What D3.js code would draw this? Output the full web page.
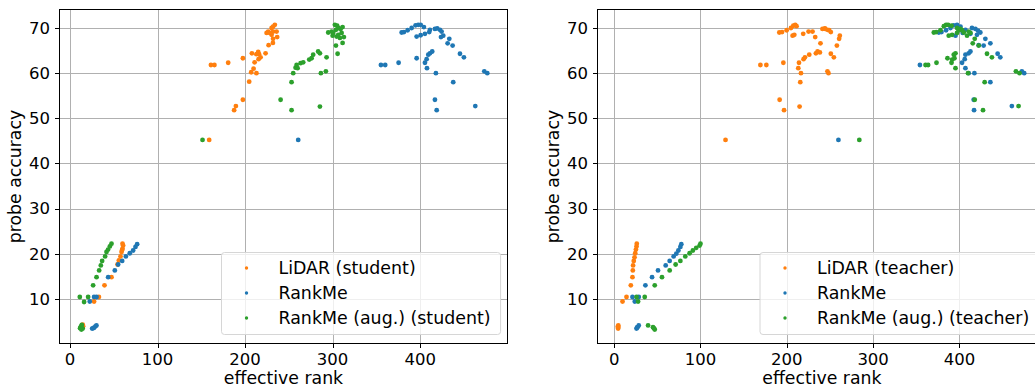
<!DOCTYPE html>
<html>
<head>
<meta charset="utf-8">
<script src="https://cdn.jsdelivr.net/npm/d3@7"></script>
<style>
  body { margin: 0; background: #fff; }
  svg { display: block; font-family: "DejaVu Sans", sans-serif; }
  .grid line { stroke: #b0b0b0; stroke-width: 1; }
  .tick-label { font-size: 16.5px; fill: #000; }
  .axis-label { font-size: 17.3px; fill: #000; }
  .legend-text { font-size: 17.4px; fill: #000; }
</style>
</head>
<body>
<svg id="chart" width="1035" height="388"></svg>
<script>
// [effective rank, probe accuracy]
const lidarStudent = [
  [13, 3.5], [13.5, 3.8], [14, 4.1], [14.5, 4.3], [12.5, 3.6], [15, 3.9],
  [27.5, 9.4], [33, 10.4], [39.4, 13], [47.4, 14.8], [54.3, 17.6], [55.8, 18.5], [57.7, 19.4],
  [58.9, 20.4], [60, 21.1], [60.7, 21.8], [60, 22.2], [59.5, 20.8],
  [159, 45.2],
  [161, 61.8], [165, 61.8], [180.7, 62.3], [197.5, 63.3], [207.8, 64.4], [215, 64.7], [216, 64.2],
  [217.7, 63.5], [215.4, 63.1], [210.9, 62.4], [213, 64.2], [223.4, 64.4], [209.7, 61], [207, 60.2],
  [213, 60], [204.7, 58.1], [197.5, 54.1], [189.5, 52.7], [187.5, 51.8],
  [234, 70.7], [232, 70.3], [230.3, 70], [226.4, 69.2], [224.6, 68.9], [228.3, 68.9], [232, 69.2],
  [236, 69.2], [230.3, 68.5], [236.7, 68], [232, 67.6], [226.9, 66.2], [231.8, 66.7]
];
const rankmeStudent = [
  [25.3, 3.4], [27.6, 3.6], [29.1, 3.9], [30.2, 4.1], [26.5, 3.5],
  [22.6, 9.4], [27.5, 10.4], [30.3, 10.4], [43.6, 14.8], [51.2, 16.3], [55, 17.6], [59.6, 18.4],
  [63.8, 19.4], [68.3, 20.1], [72.1, 20.7], [74.8, 21.5], [76.7, 22.1],
  [260.7, 45.2],
  [355.2, 61.8], [360.1, 61.8], [375.4, 62.3], [396, 63.3], [405.5, 62.3], [407.8, 61.1], [407.4, 63.1],
  [409.3, 64.1], [411.2, 64.4], [413.8, 64.8], [418, 60], [437.8, 58], [416.9, 54.1], [418.9, 51.8],
  [463, 52.7], [445.5, 64.3], [450, 63.5], [473.3, 60.4], [476.7, 60], [431.4, 66.6], [437.1, 66.1],
  [433.3, 67.6],
  [378.9, 69], [381.5, 69.1], [385.7, 69.5], [390.3, 70], [394.8, 70.6], [397.8, 70.7], [400.6, 70.7],
  [404.3, 70.2], [411.2, 69.6], [410.4, 69.1], [416.9, 69.8], [419.5, 69.9], [422.6, 69.6],
  [424.5, 69.2], [426.4, 68.3], [423.8, 68], [396, 68.1], [400.6, 68.4], [405.5, 68.7]
];
const rankmeAugStudent = [
  [11.5, 3.5], [12.5, 3.9], [13.5, 4.2], [14.5, 3.4], [13, 3.2],
  [11.2, 10.4], [16.1, 9.3], [20.7, 10.4], [26.4, 13], [30.3, 14.8], [33.3, 16.3], [35.2, 17.4],
  [36.7, 18.4], [40.1, 19.4], [41.7, 20.4], [43.5, 20.9], [45.5, 21.6], [47.4, 22.2],
  [151.4, 45.2],
  [240.6, 54.1], [253.1, 51.8], [253.1, 58], [255, 60], [258.9, 61.8], [257.7, 61.2], [260, 61.1],
  [263.4, 62.2], [266.4, 62.4], [273.3, 63], [276, 63.3], [277.8, 64.1], [283.5, 64.8], [285.5, 64.4],
  [293.1, 63.5], [285.5, 52.6], [286.6, 60], [292.3, 60.4], [305.7, 64.3], [303.8, 66.1], [311.4, 66.7],
  [302.6, 70.7], [305.2, 70.5], [295, 69], [298.9, 69.2], [300.7, 68.9], [303.8, 69.6], [306.4, 70],
  [309.1, 69.8], [311.4, 70.2], [300, 68.3], [306.4, 68.5], [310.3, 68.9], [308.3, 67.8],
  [312.9, 68], [304.6, 68.1]
];
const lidarTeacher = [
  [4.6, 3.4], [4.6, 3.7], [4.8, 4.1], [4.4, 3.9],
  [9.7, 9.4], [14.3, 10.4], [19.3, 13], [21.2, 14.8], [21.6, 16.3], [21.9, 17.4], [22.7, 18.4],
  [23.6, 19.2], [24.4, 20.1], [25.2, 20.9], [25.9, 21.6], [26.2, 22.2],
  [129, 45.2],
  [169.4, 61.8], [176.3, 61.8], [196, 62.3], [191.7, 54.1], [196.8, 51.8], [214.1, 62.3], [213.3, 61.1],
  [216.4, 60], [215.6, 58], [214.8, 52.6], [219.4, 63.1], [221, 63.5], [226, 64.1], [233.7, 64.4],
  [235.6, 64.8], [238.3, 64.6], [247.1, 60.4], [248.3, 60], [239, 66.6], [232.9, 68], [251, 64.3],
  [254.5, 63.5], [258, 66.1], [260.6, 67.6], [261.4, 68.3],
  [191.3, 69], [194.5, 69.1], [199.8, 69.5], [204.8, 70], [207.5, 70.5], [209.8, 70.7], [211.3, 70.4],
  [206.7, 68.3], [208.7, 68.5], [219, 68.7], [225.2, 69.2], [229.8, 69.2], [241.3, 69.8],
  [244.1, 69.9], [247.1, 69.6], [251, 69.1], [244.5, 69.8], [249.1, 69.5]
];
const rankmeTeacher = [
  [25.9, 3.4], [27, 3.7], [28.5, 4.1], [26.5, 3.6],
  [21.2, 10.4], [23.9, 9.4], [28.5, 10.4], [36.2, 13], [43.9, 14.8], [50.8, 16.3], [59.7, 17.4],
  [64.3, 18.4], [68.9, 19.4], [72, 20], [74.4, 20.7], [76.7, 21.5], [77.8, 22.1],
  [259.8, 45.2],
  [354.2, 61.8], [416.5, 54.1], [416.9, 51.8], [435.8, 58], [417.3, 60], [410.7, 60], [406.9, 61.1],
  [403, 62.3], [406.1, 63.1], [406.9, 64.1], [410.7, 64.4], [412.7, 64.8], [444.2, 64.3], [447.3, 63.5],
  [460.7, 52.7], [475, 60], [472.3, 60.4], [430, 67.6], [435.8, 66.6], [428, 66.1], [422.3, 66.2],
  [376.1, 69], [379.2, 69.1], [384.5, 69.5], [389.6, 70], [393.4, 70.6], [397.2, 70.7], [401.2, 70.3],
  [403.8, 68.9], [406.9, 69.6], [414.5, 70], [418.5, 69.8], [421.5, 69.4], [424.2, 69], [420.3, 68.5],
  [412.7, 68.7], [395.4, 68.3]
];
const rankmeAugTeacher = [
  [39.3, 4.1], [45, 3.7], [47, 3.2], [46, 3.5],
  [25.9, 10.4], [27.7, 9.4], [35.4, 10.4], [47, 13], [55.4, 14.8], [64.3, 16.3], [71.2, 17.6],
  [76.7, 18.4], [82.4, 19.4], [87.4, 20.1], [91.2, 20.7], [95.1, 21.3], [99, 21.8], [100, 22.2],
  [284, 45.2],
  [360.7, 61.8], [363.7, 61.8], [373.4, 62.3], [395.4, 61.1], [390.8, 62.3], [391.5, 63], [393.4, 64.1],
  [395.4, 64.4], [394.2, 63.3], [386.1, 63.3], [409.9, 60], [429.2, 58], [417.7, 54.1], [427.3, 51.8],
  [431.9, 64.3], [437.6, 63.5], [465.4, 60.4], [469.6, 60], [468.5, 52.7], [422.3, 66.1], [415.4, 66.6],
  [417.7, 67.6],
  [370.3, 69], [373, 69.1], [378, 69.5], [381.9, 70.4], [384.5, 70.7], [386.8, 70.7], [390.8, 70.5],
  [387.6, 68.3], [391.5, 68.5], [397.2, 68.9], [401.2, 69.8], [403, 69.5], [399.2, 69.5], [405, 69],
  [408.8, 68.3], [412.7, 68.9], [410.7, 69.2], [397.2, 70]
];

const xTicks = [0, 100, 200, 300, 400];
const yTicks = [10, 20, 30, 40, 50, 60, 70];
const xLabel = 'effective rank';
const yLabel = 'probe accuracy';

const colors = ['#ff7f0e', '#1f77b4', '#2ca02c'];

const panels = [
    {
        left: 59.5, right: 507.5, xDomain: [-12, 499.8],
        series: [lidarStudent, rankmeStudent, rankmeAugStudent],
        names: ['LiDAR (student)', 'RankMe', 'RankMe (aug.) (student)'],
        legendX: 221.5
    },
    {
        left: 597.5, right: 1046.3, xDomain: [-19.3, 500.6],
        series: [lidarTeacher, rankmeTeacher, rankmeAugTeacher],
        names: ['LiDAR (teacher)', 'RankMe', 'RankMe (aug.) (teacher)'],
        legendX: 760
    }
];

const plotTop = 9.5, plotBottom = 343.5;
const svg = d3.select('#chart');

panels.forEach((p, pi) => {
    const x = d3.scaleLinear().domain(p.xDomain).range([p.left, p.right]);
    const y = d3.scaleLinear().domain([0.1, 74.1]).range([plotBottom, plotTop]);
    const g = svg.append('g');

    const clipId = 'clip' + pi;
    g.append('clipPath').attr('id', clipId)
        .append('rect')
        .attr('x', p.left).attr('y', plotTop)
        .attr('width', p.right - p.left).attr('height', plotBottom - plotTop);

    // grid
    const grid = g.append('g').attr('class', 'grid');
    grid.selectAll('.gx').data(xTicks).enter().append('line')
        .attr('x1', d => Math.round(x(d)) + 0.5).attr('x2', d => Math.round(x(d)) + 0.5)
        .attr('y1', plotTop).attr('y2', plotBottom);
    grid.selectAll('.gy').data(yTicks).enter().append('line')
        .attr('x1', p.left).attr('x2', p.right)
        .attr('y1', d => Math.round(y(d)) + 0.5).attr('y2', d => Math.round(y(d)) + 0.5);

    // points
    const pts = g.append('g').attr('clip-path', `url(#${clipId})`);
    p.series.forEach((s, si) => {
        pts.append('g').selectAll('circle')
            .data(s)
            .enter()
            .append('circle')
            .attr('cx', d => x(d[0]))
            .attr('cy', d => y(d[1]))
            .attr('r', 2.4)
            .attr('fill', colors[si]);
    });

    // frame
    g.append('rect')
        .attr('x', p.left).attr('y', plotTop)
        .attr('width', p.right - p.left).attr('height', plotBottom - plotTop)
        .attr('fill', 'none').attr('stroke', '#000').attr('stroke-width', 1);

    // ticks
    const ticks = g.append('g');
    ticks.selectAll('.tx').data(xTicks).enter().append('line')
        .attr('x1', d => Math.round(x(d)) + 0.5).attr('x2', d => Math.round(x(d)) + 0.5)
        .attr('y1', plotBottom).attr('y2', plotBottom + 4.5).attr('stroke', '#000');
    ticks.selectAll('.lx').data(xTicks).enter().append('text')
        .attr('class', 'tick-label')
        .attr('x', d => x(d)).attr('y', 365)
        .attr('text-anchor', 'middle')
        .text(d => d);
    ticks.selectAll('.ty').data(yTicks).enter().append('line')
        .attr('x1', p.left - 4.5).attr('x2', p.left)
        .attr('y1', d => Math.round(y(d)) + 0.5).attr('y2', d => Math.round(y(d)) + 0.5)
        .attr('stroke', '#000');
    ticks.selectAll('.ly').data(yTicks).enter().append('text')
        .attr('class', 'tick-label')
        .attr('x', p.left - 9.5).attr('y', d => y(d))
        .attr('dy', '0.36em')
        .attr('text-anchor', 'end')
        .text(d => d);

    // axis labels
    g.append('text').attr('class', 'axis-label')
        .attr('x', (p.left + p.right) / 2)
        .attr('y', 384)
        .attr('text-anchor', 'middle')
        .text(xLabel);
    g.append('text').attr('class', 'axis-label')
        .attr('transform', `translate(${p.left - 38.5}, ${(plotTop + plotBottom) / 2}) rotate(-90)`)
        .attr('text-anchor', 'middle')
        .text(yLabel);

    // legend
    const lg = g.append('g');
    const box = lg.append('rect')
        .attr('x', p.legendX).attr('y', 252.5)
        .attr('height', 82).attr('rx', 3)
        .attr('fill', '#fff').attr('fill-opacity', 0.8)
        .attr('stroke', '#d6d6d6').attr('stroke-width', 1);
    let maxW = 0;
    p.names.forEach((name, i) => {
        const cy = 268 + i * 25;
        lg.append('circle')
            .attr('cx', p.legendX + 25).attr('cy', cy)
            .attr('r', 1.7).attr('fill', colors[i]);
        const t = lg.append('text').attr('class', 'legend-text')
            .attr('x', p.legendX + 57).attr('y', cy)
            .attr('dy', '0.36em')
            .text(name);
        maxW = Math.max(maxW, t.node().getComputedTextLength());
    });
    box.attr('width', 57 + maxW + 10);
});
</script>
</body>
</html>
